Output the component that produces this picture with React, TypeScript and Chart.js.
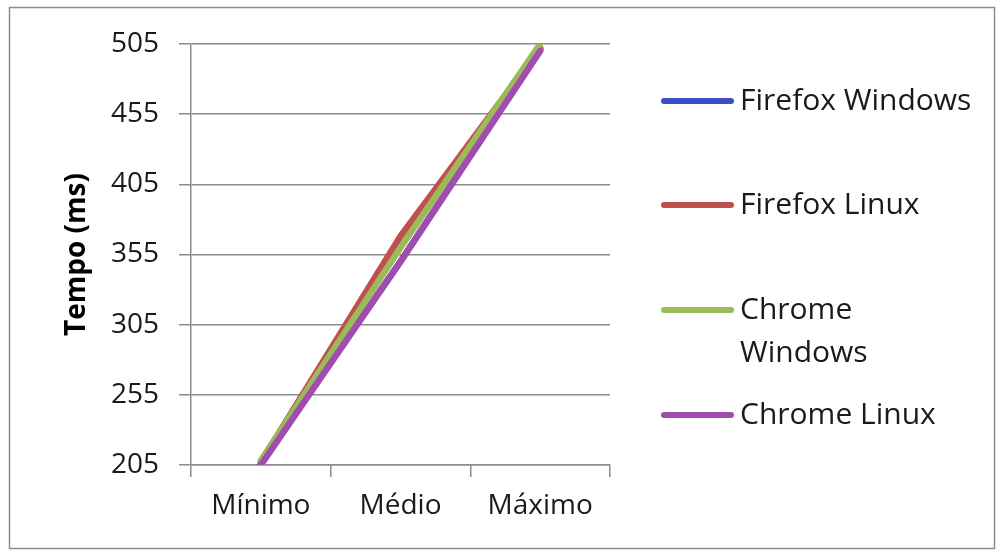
import React, { useEffect, useRef } from "react";
import { Chart, registerables } from "chart.js";

Chart.register(...registerables);

const categories = ["Mínimo", "Médio", "Máximo"];
const firefoxWindows = [206, 350, 501];
const firefoxLinux = [207, 368, 502];
const chromeWindows = [208, 360, 505];
const chromeLinux = [205, 350, 500];
const seriesNames = ["Firefox Windows", "Firefox Linux", "Chrome Windows", "Chrome Linux"];
const legendLines = [["Firefox Windows"], ["Firefox Linux"], ["Chrome", "Windows"], ["Chrome Linux"]];
const seriesColors = ["#3D4DC6", "#C0504D", "#9BBB59", "#A24CB0"];
const yMin = 205;
const yMax = 505;
const yStep = 50;
const yTitle = "Tempo (ms)";

const FONT = "'Open Sans', sans-serif";
const GRID = "#8C8C8C";

const framePlugin = {
  id: "frame",
  beforeDraw(chart: any) {
    const ctx = chart.ctx;
    ctx.save();
    ctx.fillStyle = "#ffffff";
    ctx.fillRect(0, 0, chart.width, chart.height);
    ctx.strokeStyle = "#8C8C8C";
    ctx.lineWidth = 1.5;
    ctx.strokeRect(9.5, 7.5, 985, 541);
    ctx.restore();
  },
};

const legendPlugin = {
  id: "sideLegend",
  afterDraw(chart: any) {
    const ctx = chart.ctx;
    const rows = [101, 205, 310, 415];
    ctx.save();
    ctx.font = `30px ${FONT}`;
    ctx.textBaseline = "middle";
    ctx.textAlign = "left";
    legendLines.forEach((lines, i) => {
      const y = rows[i];
      ctx.strokeStyle = seriesColors[i];
      ctx.lineWidth = 6;
      ctx.lineCap = "round";
      ctx.beginPath();
      ctx.moveTo(664, y);
      ctx.lineTo(731, y);
      ctx.stroke();
      ctx.fillStyle = "#1a1a1a";
      lines.forEach((t, j) => {
        ctx.fillText(t, 740, y + j * 43);
      });
    });
    ctx.restore();
  },
};

export default function App() {
  const ref = useRef<HTMLCanvasElement | null>(null);
  useEffect(() => {
    if (!ref.current) return;
    const dataSets = [firefoxWindows, firefoxLinux, chromeWindows, chromeLinux];
    const chart = new Chart(ref.current, {
      type: "line",
      data: {
        labels: categories,
        datasets: dataSets.map((d, i) => ({
          label: seriesNames[i],
          data: d,
          order: dataSets.length - 1 - i,
          borderColor: seriesColors[i],
          backgroundColor: seriesColors[i],
          borderWidth: 6.5,
          pointRadius: 0,
          tension: 0,
          borderCapStyle: "round",
          borderJoinStyle: "round",
        })),
      },
      options: {
        animation: false,
        responsive: true,
        maintainAspectRatio: false,
        layout: { padding: { left: 60, right: 394, top: 44, bottom: 0 } },
        plugins: {
          legend: { display: false },
          tooltip: { enabled: false },
        },
        scales: {
          x: {
            type: "category",
            offset: true,
            grid: {
              offset: true,
              drawOnChartArea: false,
              drawTicks: true,
              tickLength: 12,
              color: GRID,
              lineWidth: 1.5,
            },
            border: { display: true, color: GRID, width: 1.5 },
            ticks: {
              color: "#1a1a1a",
              font: { family: FONT, size: 28 },
              padding: 12,
              maxRotation: 0,
            },
            afterFit(scale: any) {
              scale.height = 89;
            },
          },
          y: {
            min: yMin,
            max: yMax,
            grid: {
              color: GRID,
              lineWidth: 1.5,
              drawTicks: true,
              tickLength: 12,
            },
            border: { display: true, color: GRID, width: 1.5 },
            ticks: {
              stepSize: yStep,
              color: "#1a1a1a",
              font: { family: FONT, size: 28 },
              padding: 20,
            },
            title: {
              display: true,
              text: yTitle,
              color: "#000000",
              font: { family: FONT, size: 28, weight: "bold" },
              padding: 0,
            },
            afterFit(scale: any) {
              scale.width = 131;
            },
          },
        },
      },
      plugins: [framePlugin, legendPlugin],
    });
    return () => chart.destroy();
  }, []);
  return (
    <div style={{ position: "fixed", left: 0, top: 0, width: 1004, height: 554, background: "#fff" }}>
      <canvas ref={ref} />
    </div>
  );
}
